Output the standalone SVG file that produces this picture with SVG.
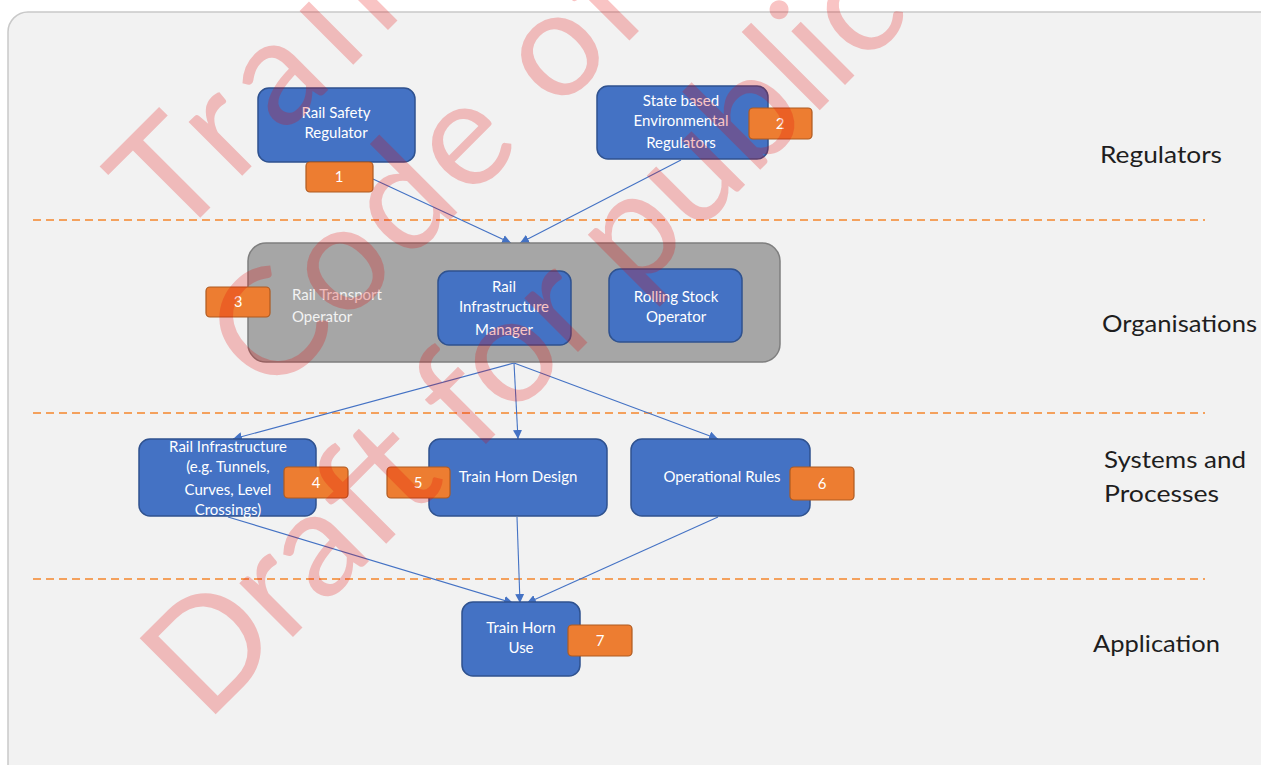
<svg xmlns="http://www.w3.org/2000/svg" width="1261" height="765" viewBox="0 0 1261 765">
<defs>
<style>
.node{fill:#4472c4;stroke:#2f528f;stroke-width:1.5}
.badge{fill:#ed7d31;stroke:#ae5a21;stroke-width:1.2}
.nt{font-family:Lato,"Liberation Sans",sans-serif;font-size:15px;fill:#ffffff;text-anchor:middle}
.lt{font-family:Lato,"Liberation Sans",sans-serif;font-size:15px;fill:#f2f2f2}
.bt{font-family:Lato,"Liberation Sans",sans-serif;font-size:15px;fill:#ffffff;text-anchor:middle}
.lane{font-family:Lato,"Liberation Sans",sans-serif;font-size:23px;fill:#1e1e1e}
.dash{stroke:#f4a15d;stroke-width:2;stroke-dasharray:8 5;fill:none}
.conn{stroke:#4472c4;stroke-width:1.1;fill:none;marker-end:url(#ah)}
.wm{font-family:Lato,"Liberation Sans",sans-serif;font-size:150px;fill:#e60000;fill-opacity:0.23}
</style>
<marker id="ah" viewBox="0 0 10 10" refX="10" refY="5" markerWidth="9" markerHeight="9" markerUnits="userSpaceOnUse" orient="auto">
<path d="M0,0 L10,5 L0,10 z" fill="#4472c4"/>
</marker>
</defs>
<rect x="0" y="0" width="1261" height="765" fill="#ffffff"/>
<rect x="8" y="12" width="1290" height="800" rx="20" fill="#f2f2f2" stroke="#c9c9c9" stroke-width="1.5"/>

<g id="lanes">
<line class="dash" x1="33" y1="220" x2="1205" y2="220"/>
<line class="dash" x1="33" y1="413" x2="1205" y2="413"/>
<line class="dash" x1="33" y1="579" x2="1205" y2="579"/>
<text class="lane" x="1100" y="163" textLength="122" lengthAdjust="spacingAndGlyphs">Regulators</text>
<text class="lane" x="1102" y="332" textLength="155" lengthAdjust="spacingAndGlyphs">Organisations</text>
<text class="lane" x="1104" y="468" textLength="142" lengthAdjust="spacingAndGlyphs">Systems and</text>
<text class="lane" x="1104" y="502" textLength="115" lengthAdjust="spacingAndGlyphs">Processes</text>
<text class="lane" x="1093" y="652" textLength="127" lengthAdjust="spacingAndGlyphs">Application</text>
</g>

<g id="connectors">
<line class="conn" x1="373" y1="179" x2="511" y2="243"/>
<line class="conn" x1="681" y1="160" x2="520" y2="243"/>
<line class="conn" x1="514" y1="363" x2="233" y2="439"/>
<line class="conn" x1="514" y1="363" x2="518" y2="439"/>
<line class="conn" x1="514" y1="363" x2="718" y2="439"/>
<line class="conn" x1="228" y1="517" x2="513" y2="603"/>
<line class="conn" x1="517" y1="517" x2="520" y2="603"/>
<line class="conn" x1="718" y1="517" x2="527" y2="603"/>
</g>

<g id="n1">
<rect class="node" x="258" y="88" width="157" height="74" rx="11"/>
<text class="nt" x="336" y="118">Rail Safety</text>
<text class="nt" x="336" y="138">Regulator</text>
<rect class="badge" x="306" y="162" width="67" height="30" rx="4"/>
<text class="bt" x="339" y="182">1</text>
</g>

<g id="n2">
<rect class="node" x="597" y="86" width="171" height="73" rx="11"/>
<text class="nt" x="681" y="106">State based</text>
<text class="nt" x="681" y="126">Environmental</text>
<text class="nt" x="681" y="148">Regulators</text>
<rect class="badge" x="749" y="108" width="63" height="31" rx="4"/>
<text class="bt" x="780" y="129">2</text>
</g>

<g id="n3">
<rect x="248" y="243" width="532" height="119" rx="18" fill="#a6a6a6" stroke="#7f7f7f" stroke-width="1.5"/>
<text class="lt" x="292" y="300">Rail Transport</text>
<text class="lt" x="292" y="322">Operator</text>
<rect class="badge" x="206" y="287" width="64" height="30" rx="4"/>
<text class="bt" x="238" y="307">3</text>
</g>

<g id="n3a">
<rect class="node" x="438" y="271" width="133" height="74" rx="11"/>
<text class="nt" x="504" y="292">Rail</text>
<text class="nt" x="504" y="312">Infrastructure</text>
<text class="nt" x="504" y="335">Manager</text>
</g>

<g id="n3b">
<rect class="node" x="609" y="269" width="133" height="73" rx="11"/>
<text class="nt" x="676" y="302">Rolling Stock</text>
<text class="nt" x="676" y="322">Operator</text>
</g>

<g id="n4">
<rect class="node" x="139" y="439" width="177" height="77" rx="11"/>
<text class="nt" x="228" y="452">Rail Infrastructure</text>
<text class="nt" x="228" y="472">(e.g. Tunnels,</text>
<text class="nt" x="228" y="495">Curves, Level</text>
<text class="nt" x="228" y="515">Crossings)</text>
<rect class="badge" x="284" y="467" width="64" height="31" rx="4"/>
<text class="bt" x="316" y="488">4</text>
</g>

<g id="n5">
<rect class="node" x="429" y="439" width="178" height="77" rx="11"/>
<text class="nt" x="518" y="482">Train Horn Design</text>
<rect class="badge" x="387" y="467" width="63" height="31" rx="4"/>
<text class="bt" x="418" y="488">5</text>
</g>

<g id="n6">
<rect class="node" x="631" y="439" width="179" height="77" rx="11"/>
<text class="nt" x="722" y="482">Operational Rules</text>
<rect class="badge" x="790" y="467" width="64" height="33" rx="4"/>
<text class="bt" x="822" y="489">6</text>
</g>

<g id="n7">
<rect class="node" x="462" y="602" width="118" height="74" rx="11"/>
<text class="nt" x="521" y="633">Train Horn</text>
<text class="nt" x="521" y="653">Use</text>
<rect class="badge" x="568" y="625" width="64" height="31" rx="4"/>
<text class="bt" x="600" y="646">7</text>
</g>

<g id="watermark">
<text class="wm" transform="translate(174,244) rotate(-45)" letter-spacing="14">Train</text>
<text class="wm" transform="translate(270,400) rotate(-45)" letter-spacing="4">Code of</text>
<text class="wm" transform="translate(206,724) rotate(-45)">Draft for public</text>
</g>
</svg>
